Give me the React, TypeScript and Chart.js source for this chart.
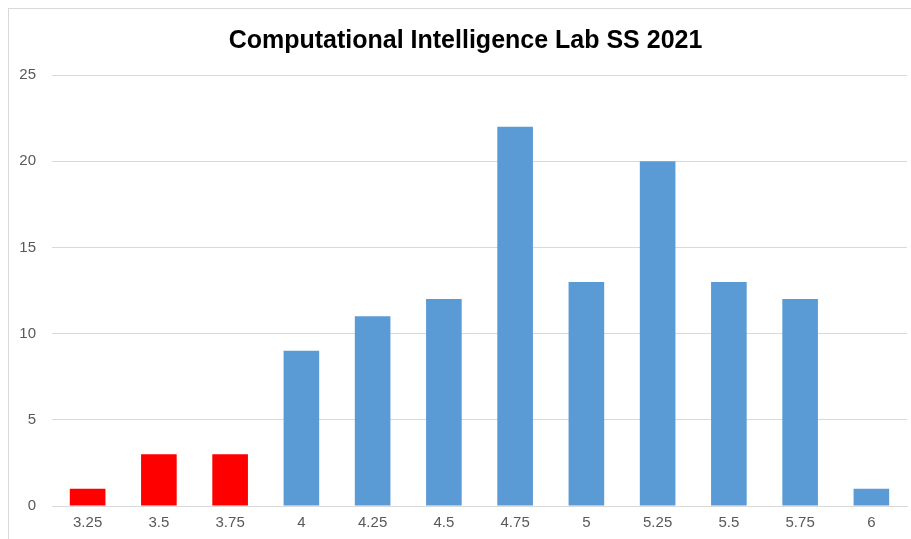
import React, { useEffect, useRef } from "react";
import { Chart, registerables } from "chart.js";

Chart.register(...registerables);

const categories = ["3.25", "3.5", "3.75", "4", "4.25", "4.5", "4.75", "5", "5.25", "5.5", "5.75", "6"];
const counts = [1, 3, 3, 9, 11, 12, 22, 13, 20, 13, 12, 1];
const failingCount = 3;
const title = "Computational Intelligence Lab SS 2021";

// The original chart is a little wider than the visible frame, so its title is centred slightly right.
const shiftTitle = {
  id: "shiftTitle",
  afterLayout(chart: any) {
    if (chart.titleBlock) {
      chart.titleBlock.left += 15;
    }
  },
};

export default function App() {
  const ref = useRef<HTMLCanvasElement>(null);
  useEffect(() => {
    if (!ref.current) return;
    const colors = counts.map((_, i) => (i < failingCount ? "#ff0000" : "#5b9bd5"));
    const chart = new Chart(ref.current, {
      type: "bar",
      data: {
        labels: categories,
        datasets: [
          {
            data: counts,
            backgroundColor: colors,
            barPercentage: 0.5,
            categoryPercentage: 1,
          },
        ],
      },
      plugins: [shiftTitle],
      options: {
        animation: false,
        responsive: false,
        maintainAspectRatio: false,
        layout: { padding: { left: 0, right: 4, top: 0, bottom: 0 } },
        plugins: {
          legend: { display: false },
          tooltip: { enabled: false },
          title: {
            display: true,
            text: title,
            color: "#000000",
            font: { family: "Liberation Sans, Arial, sans-serif", size: 25, weight: "bold" },
            padding: { top: 17, bottom: 19 },
          },
        },
        scales: {
          x: {
            grid: { display: false, drawTicks: false },
            border: { display: true, color: "#d9d9d9", width: 1 },
            ticks: {
              color: "#595959",
              font: { family: "Liberation Sans, Arial, sans-serif", size: 15 },
              padding: 8,
              maxRotation: 0,
            },
            afterFit: (s: any) => {
              s.height = 33;
            },
          },
          y: {
            min: 0,
            max: 25,
            ticks: {
              stepSize: 5,
              color: "#595959",
              font: { family: "Liberation Sans, Arial, sans-serif", size: 15 },
              padding: 16,
            },
            grid: { color: "#d9d9d9", drawTicks: false, lineWidth: 1 },
            border: { display: false },
            afterFit: (s: any) => {
              s.width = 43;
            },
          },
        },
      },
    });
    return () => chart.destroy();
  }, []);
  return (
    <div
      style={{
        position: "absolute",
        left: 8,
        top: 8,
        width: 903,
        height: 531,
        borderTop: "1px solid #d9d9d9",
        borderLeft: "1px solid #d9d9d9",
        background: "#fff",
      }}
    >
      <canvas ref={ref} width={902} height={530} style={{ display: "block" }} />
    </div>
  );
}
